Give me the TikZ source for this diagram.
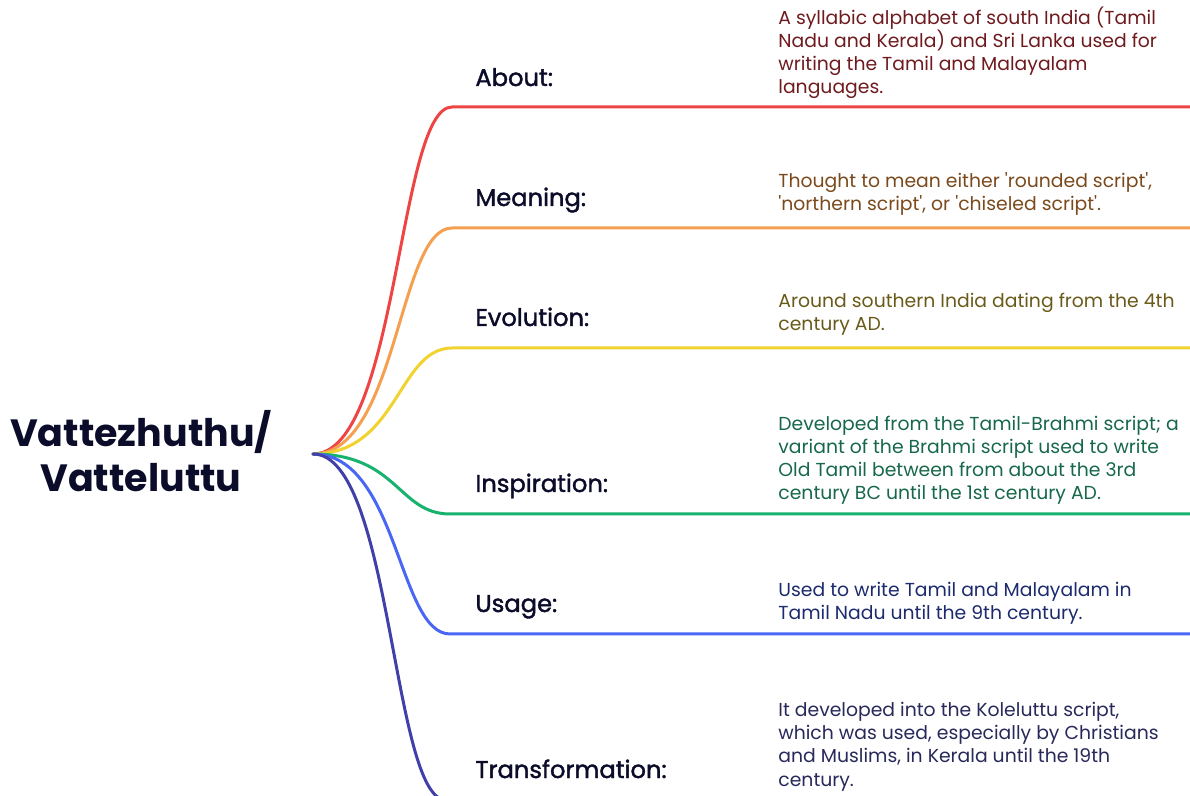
\documentclass[tikz,border=0pt]{standalone}
\usepackage{fontspec}
\setmainfont{Poppins}
\newfontfamily\labfont{Poppins}[FakeBold=1.6]
\usepackage{tikz}
\usetikzlibrary{positioning}

\definecolor{aboutc}{HTML}{EE4444}
\definecolor{meaningc}{HTML}{F5A050}
\definecolor{evolc}{HTML}{F2D22E}
\definecolor{inspc}{HTML}{17B26E}
\definecolor{usagec}{HTML}{4A66F5}
\definecolor{transc}{HTML}{4040A8}
\definecolor{abouttxt}{HTML}{6E1A1E}
\definecolor{meaningtxt}{HTML}{7A4A1C}
\definecolor{evoltxt}{HTML}{6A5A1A}
\definecolor{insptxt}{HTML}{17684A}
\definecolor{usagetxt}{HTML}{1C2A6E}
\definecolor{transtxt}{HTML}{28285A}
\definecolor{inkc}{HTML}{0B0B2A}
\newcommand{\q}{\textquotesingle}

\begin{document}
\begin{tikzpicture}[x=0.5pt, y=-0.5pt,
    branch/.style={line width=1.5pt, line cap=round},
    topic/.style={anchor=base west, inner sep=0pt, text=inkc, font=\labfont\fontsize{12.1}{14}\selectfont},
    desc/.style={anchor=base west, inner sep=0pt, align=left, font=\fontsize{9.4}{11.65}\selectfont},
    rootbox/.style={inner sep=0pt, align=center, text=inkc, font=\bfseries\fontsize{19}{22.5}\selectfont}]
	\useasboundingbox (0,0) rectangle (1190,796);
	\clip (0,0) rectangle (1190,796);
	% centre topic
	\node[rootbox] (root) at (141,451) {Vattezhuthu/\\Vatteluttu};
	\coordinate (hub) at (313,454);
	% branches
	\coordinate (aboutend) at (452,107);
	\coordinate (aboutr) at (1190,107);
	\draw[branch, aboutc] (hub) .. controls (398,454) and (398,107) .. (aboutend) -- (aboutr);
	\coordinate (meaningend) at (452,228);
	\coordinate (meaningr) at (1190,228);
	\draw[branch, meaningc] (hub) .. controls (398,454) and (398,228) .. (meaningend) -- (meaningr);
	\coordinate (evolend) at (452,348);
	\coordinate (evolr) at (1190,348);
	\draw[branch, evolc] (hub) .. controls (398,454) and (398,348) .. (evolend) -- (evolr);
	\coordinate (inspend) at (450,514);
	\coordinate (inspr) at (1190,514);
	\draw[branch, inspc] (hub) .. controls (398,454) and (398,514) .. (inspend) -- (inspr);
	\coordinate (usageend) at (450,634);
	\coordinate (usager) at (1190,634);
	\draw[branch, usagec] (hub) .. controls (398,454) and (398,634) .. (usageend) -- (usager);
	\coordinate (transend) at (446,800);
	\coordinate (transr) at (1190,800);
	\draw[branch, transc] (hub) .. controls (392,454) and (392,800) .. (transend) -- (transr);
	% topic labels
	\node[topic] (about) at (475,86) {About:};
	\node[topic] (meaning) at (475,206) {Meaning:};
	\node[topic] (evol) at (475,326) {Evolution:};
	\node[topic] (insp) at (475,492) {Inspiration:};
	\node[topic] (usage) at (475,612) {Usage:};
	\node[topic] (trans) at (475,778) {Transformation:};
	% notes (base = last line)
	\node[desc, text=abouttxt] (aboutnote) at (778,94) {A syllabic alphabet of south India (Tamil\\Nadu and Kerala) and Sri Lanka used for\\writing the Tamil and Malayalam\\languages.};
	\node[desc, text=meaningtxt] (meaningnote) at (778,211) {Thought to mean either \q rounded script\q,\\\q northern script\q, or \q chiseled script\q.};
	\node[desc, text=evoltxt] (evolnote) at (778,331) {Around southern India dating from the 4th\\century AD.};
	\node[desc, text=insptxt] (inspnote) at (778,500) {Developed from the Tamil-Brahmi script; a\\variant of the Brahmi script used to write\\Old Tamil between from about the 3rd\\century BC until the 1st century AD.};
	\node[desc, text=usagetxt] (usagenote) at (778,620) {Used to write Tamil and Malayalam in\\Tamil Nadu until the 9th century.};
	\node[desc, text=transtxt] (transnote) at (778,786) {It developed into the Koleluttu script,\\which was used, especially by Christians\\and Muslims, in Kerala until the 19th\\century.};
\end{tikzpicture}
\end{document}
